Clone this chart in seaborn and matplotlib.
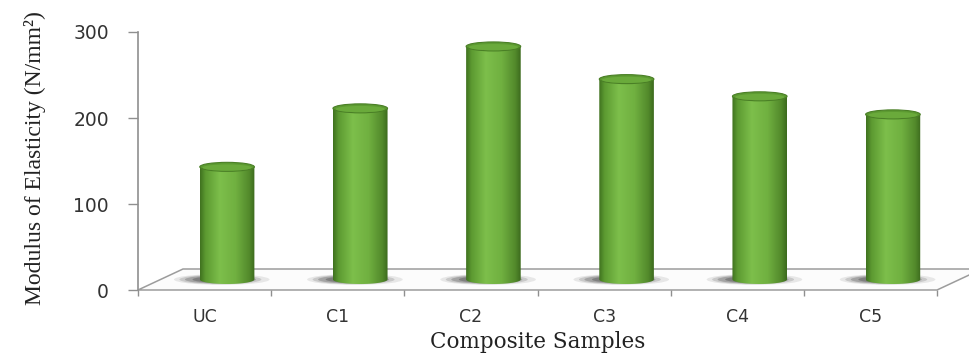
import numpy as np
import pandas as pd
import matplotlib
matplotlib.use("Agg")
import matplotlib.pyplot as plt
import matplotlib.transforms as mtransforms
from matplotlib.patches import Ellipse, Polygon
from matplotlib.path import Path
from matplotlib.colors import LinearSegmentedColormap
import seaborn as sns

# ---- data ----
samples = ["UC", "C1", "C2", "C3", "C4", "C5"]
modulus = [131, 199, 271, 233, 213, 192]
y_ticks = [0, 100, 200, 300]

sns.set_theme(style="white")
plt.rcParams["font.family"] = ["DejaVu Sans"]

W, H = 969, 360
fig = plt.figure(figsize=(W / 100, H / 100), dpi=100)
fig.patch.set_facecolor("white")

# pixel layout of the front plane
x_left, x_right = 138, 937
y_zero, px_per_unit = 290, 258 / 300
depth_dx, depth_dy = 45, 21          # floor depth in pixels (right, up)
n = len(samples)


def axes_rect(x0_px, x1_px, y0_px, ylim):
    """Figure-fraction rectangle for an axes whose value 0 sits at y0_px."""
    lo, hi = ylim
    bottom_px = y0_px - lo * px_per_unit
    top_px = y0_px - hi * px_per_unit
    return [x0_px / W, 1 - bottom_px / H, (x1_px - x0_px) / W, (bottom_px - top_px) / H]


# front axes: value axis, floor and category labels
ax_f = fig.add_axes(axes_rect(x_left, x_right, y_zero, (0, 300)))
ax_f.set_xlim(-0.5, n - 0.5)
ax_f.set_ylim(0, 300)
ax_f.patch.set_alpha(0)
for s in ["top", "right", "bottom"]:
    ax_f.spines[s].set_visible(False)
ax_f.spines["left"].set_color("#8f8f8f")
ax_f.spines["left"].set_linewidth(1.2)
ax_f.set_yticks(y_ticks)
ax_f.set_yticklabels([str(v) for v in y_ticks])
ax_f.tick_params(axis="y", direction="out", length=7, width=1, color="#8f8f8f",
                 pad=14, labelsize=13.5, labelcolor="#333333", left=True)
ax_f.set_xticks(range(n))
ax_f.set_xticklabels(samples)
ax_f.set_xticks(np.arange(-0.5, n, 1.0), minor=True)
ax_f.tick_params(axis="x", which="major", length=0, pad=13, labelsize=12.5,
                 labelcolor="#333333", bottom=True)
ax_f.tick_params(axis="x", which="minor", length=4.5, width=1, color="#8f8f8f",
                 direction="out", bottom=True)

# floor (parallelogram) drawn with a depth offset
back = ax_f.transData + mtransforms.ScaledTranslation(depth_dx / 100, depth_dy / 100,
                                                      fig.dpi_scale_trans)
front_pts = ax_f.transData.transform([(-0.5, 0), (n - 0.5, 0)])
back_pts = back.transform([(n - 0.5, 0), (-0.5, 0)])
floor = Polygon(np.vstack([front_pts, back_pts]), closed=True, transform=None,
                facecolor="#fcfcfc", edgecolor="#9c9c9c", linewidth=1.1,
                clip_on=False, zorder=0)
ax_f.add_artist(floor)

# bar axes: mid-depth plane, shifted half the floor depth
ylim_b = (-20, 310)
ax_b = fig.add_axes(axes_rect(x_left + depth_dx / 2, x_right + depth_dx / 2,
                              y_zero - depth_dy / 2, ylim_b))
df = pd.DataFrame({"sample": samples, "modulus": modulus})
sns.barplot(data=df, x="sample", y="modulus", ax=ax_b, color="#6cad3c",
            width=0.41, saturation=1, edgecolor="none")
ax_b.set_xlim(-0.5, n - 0.5)
ax_b.set_ylim(*ylim_b)
ax_b.axis("off")
ax_b.patch.set_alpha(0)

cyl = LinearSegmentedColormap.from_list(
    "cyl", [(0.0, "#3f711f"), (0.1, "#5c9a31"), (0.36, "#7dbf4b"),
            (0.65, "#70b040"), (0.9, "#52892b"), (1.0, "#3c6a1d")])
grad = np.linspace(0, 1, 256)[None, :]
ell_h = 9 / px_per_unit  # ellipse height in value units

for p in list(ax_b.patches):
    x0, w, h = p.get_x(), p.get_width(), p.get_height()
    cx = x0 + w / 2
    # soft shadow on the floor, heavier on the left
    for sw, dx, eh, a in [(1.75, -0.04, 1.2, 0.10), (1.5, -0.05, 1.05, 0.16),
                          (1.3, -0.05, 0.9, 0.24), (1.12, -0.03, 0.75, 0.30)]:
        ax_b.add_patch(Ellipse((cx + dx, 0.0), w * sw, ell_h * eh,
                               facecolor="#2e2e2e", edgecolor="none", alpha=a,
                               zorder=1))
    # cylinder body: rectangle with rounded bottom
    t = np.linspace(np.pi, 2 * np.pi, 40)
    verts = [(x0, h), (x0, 0)] + list(zip(cx + w / 2 * np.cos(t), ell_h / 2 * np.sin(t))) \
        + [(x0 + w, h), (x0, h)]
    body = Path(verts)
    img = ax_b.imshow(grad, cmap=cyl, aspect="auto", extent=[x0, x0 + w, -ell_h, h],
                      zorder=2, interpolation="bilinear")
    img.set_clip_path(body, transform=ax_b.transData)
    p.set_visible(False)
    # top cap
    ax_b.add_patch(Ellipse((cx, h), w, ell_h, facecolor="#5c9a31",
                           edgecolor="#4a7f26", linewidth=0.8, zorder=3))
    ax_b.add_patch(Ellipse((cx, h - ell_h * 0.08), w * 0.9, ell_h * 0.7,
                           facecolor="#6aaa3b", edgecolor="none", zorder=3))

ax_b.set_xlim(-0.5, n - 0.5)
ax_b.set_ylim(*ylim_b)

# axis titles
fig.text(35 / W, 1 - 158 / H, "Modulus of Elasticity (N/mm²)", rotation=90,
         ha="center", va="center", fontsize=17, color="#222222",
         family=["Liberation Serif", "DejaVu Serif"])
fig.text((x_left + x_right) / 2 / W, 1 - 348 / H, "Composite Samples",
         ha="center", va="baseline", fontsize=15.5, color="#222222",
         family=["DejaVu Serif"])

fig.savefig("out.png", dpi=100, facecolor="white")
